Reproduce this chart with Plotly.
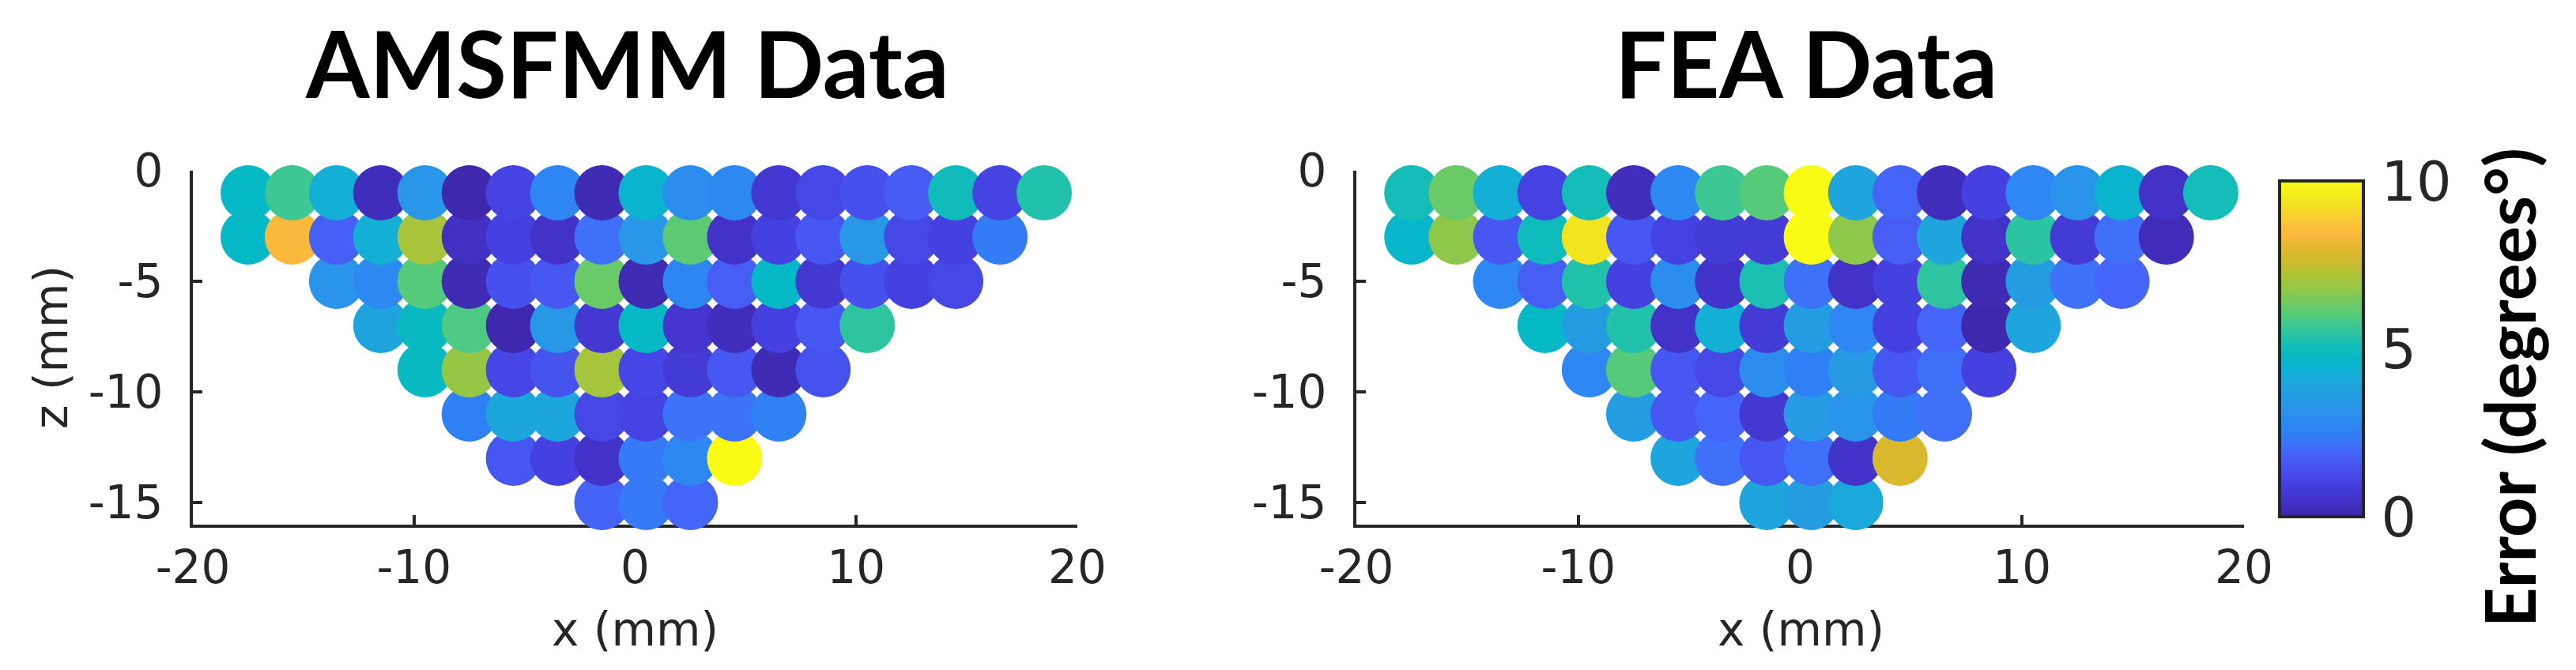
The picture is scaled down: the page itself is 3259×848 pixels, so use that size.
import plotly.graph_objects as go

W, H = 3259, 848

# grid of measurement points (mm)
x_grid = [-17.5, -15.5, -13.5, -11.5, -9.5, -7.5, -5.5, -3.5, -1.5, 0.5,
          2.5, 4.5, 6.5, 8.5, 10.5, 12.5, 14.5, 16.5, 18.5]
z_rows = [-1, -3, -5, -7, -9, -11, -13, -15]
row_start = [0, 0, 2, 3, 4, 5, 6, 8]  # index into x_grid of first point of each row

# error values (degrees), one list per row, left to right
amsfmm_rows = [
    [4.7, 5.7, 4.3, 0.3, 3.3, 0.1, 1.1, 2.7, 0.2, 4.5, 3.0, 2.8, 0.7, 1.2, 1.4, 1.7, 5.0, 1.1, 5.3],
    [4.7, 8.4, 1.8, 4.3, 7.1, 0.4, 1.0, 0.5, 2.1, 3.3, 6.1, 0.5, 1.0, 1.6, 3.4, 1.2, 1.0, 2.4],
    [3.2, 2.8, 6.0, 0.2, 1.4, 1.6, 6.3, 0.2, 2.7, 1.75, 4.7, 0.7, 1.4, 1.0, 1.2],
    [3.9, 4.8, 5.9, 0.1, 3.4, 0.7, 4.7, 0.6, 0.3, 1.0, 1.6, 5.5],
    [4.8, 6.85, 1.15, 1.5, 7.05, 1.15, 0.8, 1.6, 0.2, 1.45],
    [2.5, 4.0, 4.0, 1.2, 1.1, 2.2, 2.2, 2.55],
    [1.6, 1.0, 0.5, 2.35, 2.8, 10.0],
    [1.85, 2.35, 1.9],
]
fea_rows = [
    [5.1, 6.3, 4.3, 1.05, 5.1, 0.3, 2.8, 5.7, 6.0, 10.0, 3.95, 1.9, 0.3, 1.0, 2.75, 3.2, 4.5, 0.5, 5.1],
    [4.6, 6.75, 1.6, 4.95, 9.4, 1.6, 1.05, 0.8, 0.8, 10.0, 6.75, 1.75, 3.9, 0.5, 5.45, 0.8, 2.1, 0.25],
    [2.75, 1.75, 5.3, 1.0, 3.0, 0.55, 5.2, 2.15, 0.5, 1.0, 5.5, 0.15, 3.6, 2.15, 1.9],
    [4.7, 3.6, 5.3, 0.5, 4.3, 0.8, 3.6, 2.75, 1.0, 1.9, 0.1, 3.95],
    [2.75, 6.0, 1.6, 1.2, 2.95, 2.5, 3.5, 1.6, 2.1, 1.0],
    [3.6, 1.6, 1.9, 0.7, 3.5, 3.25, 2.4, 2.1],
    [3.95, 2.1, 1.6, 2.1, 0.55, 7.8],
    [3.95, 3.6, 4.1],
]

x_ticks = [-20, -10, 0, 10, 20]
x_ticktext = ["-20", "-10", "0", "10", "20"]
z_ticks = [0, -5, -10, -15]
z_ticktext = ["0", "-5", "-10", "-15"]
cbar_ticks = [0, 5, 10]

# parula-like colormap sampled from the colour bar
parula = [
    [0.00, "#3E26A8"], [0.05, "#4232C8"], [0.10, "#4540E0"], [0.14, "#4650EC"],
    [0.18, "#4660F5"], [0.21, "#4070FA"], [0.25, "#3080F5"], [0.30, "#2B8EEE"],
    [0.34, "#2898E6"], [0.37, "#229EE0"], [0.41, "#1BA9DB"], [0.45, "#0AB4CF"],
    [0.47, "#05B8C6"], [0.51, "#14BDB8"], [0.54, "#28C3A6"], [0.57, "#3CC795"],
    [0.60, "#55CA7A"], [0.63, "#6ACA68"], [0.675, "#8EC84A"], [0.71, "#A8C43A"],
    [0.75, "#C8BC2E"], [0.79, "#DEB82C"], [0.84, "#FAB83C"], [0.88, "#FDC838"],
    [0.94, "#F2E520"], [1.00, "#F9FB15"],
]

INK = "#262626"


def px(x):
    return x / W


def py(y):
    return 1 - y / H


def points(rows):
    # bottom row first so the upper rows end up drawn on top
    xs, zs, vs = [], [], []
    for r in reversed(range(len(rows))):
        for k, v in enumerate(rows[r]):
            xs.append(x_grid[row_start[r] + k])
            zs.append(z_rows[r])
            vs.append(v)
    return xs, zs, vs


fig = go.Figure()

for rows, xa, ya, show in [(amsfmm_rows, "x", "y", False), (fea_rows, "x2", "y2", True)]:
    xs, zs, vs = points(rows)
    fig.add_trace(
        go.Scatter(
            x=xs,
            y=zs,
            xaxis=xa,
            yaxis=ya,
            mode="markers",
            cliponaxis=False,
            showlegend=False,
            marker=dict(
                size=70,
                color=vs,
                colorscale=parula,
                cmin=0,
                cmax=10,
                line=dict(width=0),
                showscale=show,
                colorbar=dict(
                    x=px(2876),
                    xanchor="left",
                    xpad=0,
                    y=py(433.5),
                    yanchor="middle",
                    ypad=0,
                    lenmode="pixels",
                    len=425,
                    thickness=106,
                    outlinewidth=4,
                    outlinecolor=INK,
                    tickvals=cbar_ticks,
                    ticks="outside",
                    ticklen=7,
                    tickcolor="rgba(0,0,0,0)",
                    tickfont=dict(family="DejaVu Sans", size=70, color=INK),
                ),
            ),
        )
    )

axis_common = dict(
    showline=True,
    linewidth=4,
    linecolor=INK,
    mirror=False,
    showgrid=False,
    zeroline=False,
    ticks="inside",
    ticklen=12,
    tickwidth=4,
    tickcolor=INK,
    tickfont=dict(family="DejaVu Sans", size=58, color=INK),
    layer="below traces",
    automargin=False,
)

fig.update_layout(
    width=W,
    height=H,
    margin=dict(l=0, r=0, t=0, b=0, autoexpand=False),
    paper_bgcolor="white",
    plot_bgcolor="white",
    xaxis=dict(axis_common, domain=[px(236), px(1355)], range=[-20, 20],
               tickvals=x_ticks, ticktext=x_ticktext, anchor="y", ticklabelstandoff=0),
    yaxis=dict(axis_common, domain=[py(656), py(208)], range=[-16, 0],
               tickvals=z_ticks, ticktext=z_ticktext, anchor="x", ticklabelstandoff=22),
    xaxis2=dict(axis_common, domain=[px(1708), px(2831)], range=[-20, 20],
                tickvals=x_ticks, ticktext=x_ticktext, anchor="y2", ticklabelstandoff=0),
    yaxis2=dict(axis_common, domain=[py(656), py(208)], range=[-16, 0],
                tickvals=z_ticks, ticktext=z_ticktext, anchor="x2", ticklabelstandoff=22),
)

label_font = dict(family="DejaVu Sans", size=58, color=INK)
title_font = dict(family="Lato", size=116, color="black")

fig.add_annotation(text="<b>AMSFMM Data</b>", x=px(785), y=py(72), xref="paper", yref="paper",
                   showarrow=False, xanchor="center", yanchor="middle", font=title_font)
fig.add_annotation(text="<b>FEA Data</b>", x=px(2277), y=py(72), xref="paper", yref="paper",
                   showarrow=False, xanchor="center", yanchor="middle", font=title_font)
fig.add_annotation(text="x (mm)", x=px(795), y=py(789), xref="paper", yref="paper",
                   showarrow=False, xanchor="center", yanchor="middle", font=label_font)
fig.add_annotation(text="x (mm)", x=px(2270), y=py(789), xref="paper", yref="paper",
                   showarrow=False, xanchor="center", yanchor="middle", font=label_font)
fig.add_annotation(text="z (mm)", x=px(57), y=py(432), xref="paper", yref="paper",
                   showarrow=False, xanchor="center", yanchor="middle", textangle=-90,
                   font=label_font)
fig.add_annotation(text="<b>Error (degrees°)</b>", x=px(3166), y=py(483), xref="paper",
                   yref="paper", showarrow=False, xanchor="center", yanchor="middle",
                   textangle=-90, font=dict(family="Lato", size=88, color="black"))

fig.write_html("out.html")
